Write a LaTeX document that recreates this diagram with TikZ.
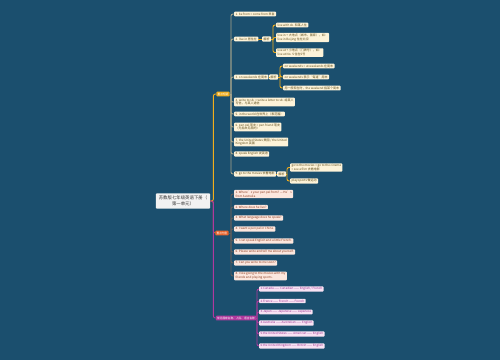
\documentclass[tikz,border=0pt]{standalone}
\usepackage{fontspec}
\setmainfont{Noto Sans CJK SC}
\usetikzlibrary{positioning}

\definecolor{bgblue}{HTML}{1B4F6E}
\definecolor{rootfill}{HTML}{F2F2F2}
\definecolor{roottext}{HTML}{333333}
\definecolor{keyyellow}{HTML}{F2AE1C}
\definecolor{keyorange}{HTML}{E8642C}
\definecolor{keypurple}{HTML}{B0399E}
\definecolor{phrasefill}{HTML}{FDF3D9}
\definecolor{phrasetext}{HTML}{5C4A18}
\definecolor{sentfill}{HTML}{FCE7DE}
\definecolor{senttext}{HTML}{8A3A1E}
\definecolor{countryfill}{HTML}{F8E2F3}
\definecolor{countrytext}{HTML}{9A3590}
\definecolor{spinegrey}{HTML}{A9A68C}
\definecolor{spinedark}{HTML}{5E5E5E}

\begin{document}
\begin{tikzpicture}[x=1pt, y=-1pt,
  every node/.style={font=\fontsize{3}{3.7}\selectfont, inner xsep=1.4pt, inner ysep=1pt},
  rootbox/.style={fill=rootfill, text=roottext, rounded corners=1pt, font=\fontsize{4.4}{6}\selectfont, align=center, inner xsep=3pt, inner ysep=2.5pt},
  keybox/.style={fill=#1, text=white, rounded corners=0.8pt, font=\fontsize{2.7}{3.2}\selectfont, inner xsep=1.2pt, inner ysep=1.2pt},
  phrase/.style={fill=phrasefill, text=phrasetext, rounded corners=0.8pt, anchor=west},
  tipbox/.style={fill=phrasefill, text=phrasetext, rounded corners=0.8pt, anchor=west, inner ysep=1.3pt},
  sentence/.style={fill=sentfill, text=senttext, rounded corners=0.8pt, anchor=west},
  country/.style={fill=countryfill, text=countrytext, rounded corners=0.8pt, anchor=west},
  twoline/.style={align=left},
  link/.style={line width=0.9pt, rounded corners=2pt},
]
  \fill[bgblue] (0,0) rectangle (500,360);
  \useasboundingbox (0,0) rectangle (500,360);

  % Root and its three branches
  \node[rootbox] (root) at (183,201) {苏教版七年级英语下册（\\第一单元）};
  \node[keybox=keyyellow] (phrases) at (223,94) {重点短语};
  \node[keybox=keyorange] (sentences) at (222,233) {重点句型};
  \node[keybox=keypurple] (countries) at (236,318) {常见国家名称、人民、语言名称};

  \draw[link, keyyellow] (root.east) -- ++(3,0) |- (phrases.west);
  \draw[link, keyorange] (root.east) -- ++(3,0) |- (sentences.west);
  \draw[link, keypurple] (root.east) -- ++(3,0) |- (countries.west);

  % Key phrases
  \node[phrase] (p1) at (234,14) {1. be from = come from 来自};
  \node[phrase] (p2) at (234,39) {2. live in 居住在};
  \node[phrase] (p3) at (234,77) {3. on weekends 在周末};
  \node[phrase, twoline] (p4) at (234,102) {4. write to sb. = write a letter to sb. 给某人\\写信，与某人通信};
  \node[phrase] (p5) at (234,114) {5. in the world 在世界上（表范围）};
  \node[phrase, twoline] (p6) at (234,127) {6. pen pal 笔友 = pen friend 笔友\\（尤指未见面的）};
  \node[phrase, twoline] (p7) at (234,142) {7. the United States 美国 / the United\\Kingdom 英国};
  \node[phrase] (p8) at (234,154) {8. speak English 说英语};
  \node[phrase] (p9) at (234,174) {9. go to the movies 去看电影};

  \coordinate (phrasespine) at (231,94);
  \draw[link, spinegrey] (phrases.east) -- (phrasespine);
  \foreach \n in {p1,p2,p3,p4,p5,p6,p7,p8,p9}
    \draw[link, spinegrey] (phrasespine) |- (\n.west);

  % Notes on live in
  \node[tipbox] (tip2) at (262,39) {解析};
  \node[phrase] (q21) at (276,25) {live with sb. 和某人住};
  \node[phrase, twoline] (q22) at (276,37.5) {live in + 大地点（城市、国家），如：\\live in Beijing 住在北京};
  \node[phrase, twoline] (q23) at (276,52.5) {live at + 小地点（门牌号），如：\\live at No. 5 住在5号};
  \coordinate (tip2spine) at (273,39);
  \draw[link, keyyellow] (p2.east) -- (tip2.west);
  \draw[link, keyyellow] (tip2.east) -- (tip2spine);
  \foreach \n in {q21,q22,q23}
    \draw[link, keyyellow] (tip2spine) |- (\n.west);

  % Notes on on weekends
  \node[tipbox] (tip3) at (269,77) {解析};
  \node[phrase] (q31) at (283,66) {on weekends = at weekends 在周末};
  \node[phrase] (q32) at (283,77) {on weekends 表示“每逢”周末};
  \node[phrase] (q33) at (283,88) {用一般现在时，the weekend 指某个周末};
  \coordinate (tip3spine) at (280,77);
  \draw[link, keyyellow] (p3.east) -- (tip3.west);
  \draw[link, keyyellow] (tip3.east) -- (tip3spine);
  \foreach \n in {q31,q32,q33}
    \draw[link, keyyellow] (tip3spine) |- (\n.west);

  % Notes on go to the movies
  \node[tipbox] (tip9) at (277,174) {解析};
  \node[phrase, twoline] (q91) at (290,167.5) {go to the movies = go to the cinema\\= see a film 去看电影};
  \node[phrase] (q92) at (290,181) {play sports 做运动};
  \coordinate (tip9spine) at (287,174);
  \draw[link, keyyellow] (p9.east) -- (tip9.west);
  \draw[link, keyyellow] (tip9.east) -- (tip9spine);
  \foreach \n in {q91,q92}
    \draw[link, keyyellow] (tip9spine) |- (\n.west);

  % Key sentences
  \node[sentence, twoline] (s1) at (234,194) {1. Where's your pen pal from? — He's\\from Australia.};
  \node[sentence] (s2) at (234,207) {2. Where does he live?};
  \node[sentence] (s3) at (234,218) {3. What language does he speak?};
  \node[sentence] (s4) at (234,229) {4. I want a pen pal in China.};
  \node[sentence] (s5) at (234,241) {5. I can speak English and a little French.};
  \node[sentence] (s6) at (234,252) {6. Please write and tell me about yourself.};
  \node[sentence] (s7) at (234,263) {7. Can you write to me soon?};
  \node[sentence, twoline] (s8) at (234,276) {8. I like going to the movies with my\\friends and playing sports.};

  \coordinate (sentencespine) at (231,233);
  \draw[link, spinedark] (sentences.east) -- (sentencespine);
  \foreach \n in {s1,s2,s3,s4,s5,s6,s7,s8}
    \draw[link, spinedark] (sentencespine) |- (\n.west);

  % Countries, people and languages
  \node[country] (c1) at (259,289) {1.Canada —— Canadian —— English / French};
  \node[country] (c2) at (259,301) {2.France —— French —— French};
  \node[country] (c3) at (259,312) {3.Japan —— Japanese —— Japanese};
  \node[country] (c4) at (259,323) {4.Australia —— Australian —— English};
  \node[country] (c5) at (259,334) {5.the United States —— American —— English};
  \node[country] (c6) at (259,346) {6.the United Kingdom —— British —— English};

  \coordinate (countryspine) at (257,318);
  \draw[link, keypurple] (countries.east) -- (countryspine);
  \foreach \n in {c1,c2,c3,c4,c5,c6}
    \draw[link, keypurple] (countryspine) |- (\n.west);
\end{tikzpicture}
\end{document}
